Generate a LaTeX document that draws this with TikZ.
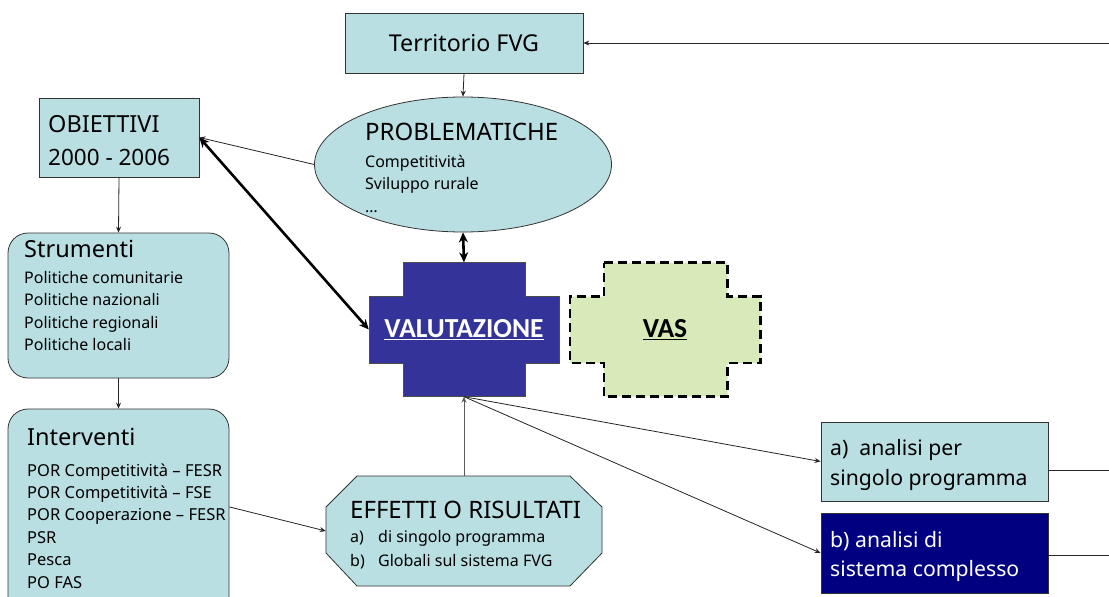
\documentclass[tikz,border=0pt]{standalone}
\usepackage{fontspec}
\setmainfont{Noto Sans}
\newfontfamily\carl{Carlito}
\usetikzlibrary{shapes.geometric,arrows.meta}
\definecolor{teal1}{HTML}{BADFE2}
\definecolor{vasg}{HTML}{D8EAB9}
\definecolor{valb}{HTML}{333399}
\definecolor{navy1}{HTML}{000080}
\begin{document}
\begin{tikzpicture}[x=1pt,y=-1pt,
  box/.style={draw=black!80, fill=teal1, line width=0.8pt, inner sep=0pt},
  ghost/.style={inner sep=0pt},
  txt/.style={anchor=base west, inner sep=0pt},
  big/.style={font=\fontsize{23.5}{27}\selectfont},
  small/.style={font=\fontsize{16}{19}\selectfont},
  mid/.style={font=\fontsize{21.2}{26}\selectfont},
  conn/.style={draw=black!85, line width=0.8pt, -{Stealth[length=6pt,width=5pt]}},
  dbl/.style={draw=black, line width=2.6pt, {Stealth[length=10pt,width=9pt]}-{Stealth[length=10pt,width=9pt]}},
  ]
\useasboundingbox (0,0) rectangle (1109,597);
\clip (0,0) rectangle (1109,597);
\fill[white] (0,0) rectangle (1109,597);

% Territorio
\node[box, font=\fontsize{23.2}{27}\selectfont, minimum width=238pt, minimum height=60pt] (terr) at (464,43) {Territorio FVG};
\coordinate (rin) at (1109,43);

% Problematiche
\node[box, ellipse, minimum width=297pt, minimum height=135pt] (prob) at (463,164.5) {};
\node[txt, font=\fontsize{24}{28}\selectfont] (probh) at (365,140) {PROBLEMATICHE};
\node[txt, small] (prob1) at (365,167) {Competitività};
\node[txt, small] (prob2) at (365,189.5) {Sviluppo rurale};
\node[txt, small] (prob3) at (365,212) {…};

% Obiettivi
\node[box, minimum width=160pt, minimum height=79pt] (obj) at (119,137.5) {};
\node[txt, big] (objh) at (48,132) {OBIETTIVI};
\node[txt, font=\fontsize{22.5}{26}\selectfont] (objy) at (48,165) {2000 - 2006};

% Strumenti
\node[box, rounded corners=20pt, minimum width=221pt, minimum height=145pt] (strum) at (118.5,305.5) {};
\node[txt, big] (strumh) at (24,257) {Strumenti};
\node[txt, small] (s1) at (24,283) {Politiche comunitarie};
\node[txt, small] (s2) at (24,305.5) {Politiche nazionali};
\node[txt, small] (s3) at (24,328) {Politiche regionali};
\node[txt, small] (s4) at (24,350.5) {Politiche locali};

% Interventi
\node[box, rounded corners=20pt, minimum width=221pt, minimum height=231pt] (interv) at (118.5,524.5) {};
\node[txt, big] (intervh) at (27,445) {Interventi};
\node[txt, font=\fontsize{16.5}{19}\selectfont] (i1) at (27,476) {POR Competitività – FESR};
\node[txt, font=\fontsize{16.5}{19}\selectfont] (i2) at (27,498.4) {POR Competitività – FSE};
\node[txt, font=\fontsize{16.5}{19}\selectfont] (i3) at (27,520.8) {POR Cooperazione – FESR};
\node[txt, font=\fontsize{16.5}{19}\selectfont] (i4) at (27,543.2) {PSR};
\node[txt, font=\fontsize{16.5}{19}\selectfont] (i5) at (27,565.6) {Pesca};
\node[txt, font=\fontsize{16.5}{19}\selectfont] (i6) at (27,588) {PO FAS};

% Effetti
\draw[draw=black!80, fill=teal1, line width=0.8pt] (357,476) -- (570,476) -- (602,507) -- (602,553) -- (570,586) -- (357,586) -- (326,553) -- (326,507) -- cycle;
\node[ghost, minimum width=276pt, minimum height=110pt] (eff) at (464,531) {};
\node[txt, font=\fontsize{24}{28}\selectfont] (effh) at (350,518) {EFFETTI O RISULTATI};
\node[txt, small] (ea) at (350,542) {a)};
\node[txt, small] (ea2) at (378,542) {di singolo programma};
\node[txt, small] (eb) at (350,566) {b)};
\node[txt, small] (eb2) at (378,566) {Globali sul sistema FVG};

% Valutazione
\draw[draw=black!70, fill=valb, line width=0.8pt] (403,262.5) -- (525,262.5) -- (525,296.5) -- (559,296.5) -- (559,363) -- (525,363) -- (525,396.5) -- (403,396.5) -- (403,363) -- (369,363) -- (369,296.5) -- (403,296.5) -- cycle;
\node[ghost, minimum width=190pt, minimum height=134pt, text=white, font=\carl\bfseries\fontsize{27.5}{31}\selectfont] (valut) at (464,329.5) {\underline{VALUTAZIONE}};

% VAS
\draw[draw=black, fill=vasg, line width=2.6pt, dash pattern=on 9pt off 5pt] (604,262.5) -- (727.5,262.5) -- (727.5,296.5) -- (760.5,296.5) -- (760.5,363) -- (727.5,363) -- (727.5,396.5) -- (604,396.5) -- (604,363) -- (570,363) -- (570,296.5) -- (604,296.5) -- cycle;
\node[ghost, minimum width=190pt, minimum height=134pt, font=\carl\bfseries\fontsize{27.5}{31}\selectfont] (vas) at (665,329.5) {\underline{VAS}};

% Analisi
\node[box, minimum width=227pt, minimum height=79pt] (ana) at (934.5,461.5) {};
\node[txt, mid] (ana1) at (830,455) {a)\ \ analisi per};
\node[txt, mid] (ana2) at (830,485) {singolo programma};
\node[box, fill=navy1, minimum width=227pt, minimum height=80pt] (anb) at (934.5,553) {};
\node[txt, mid, text=white] (anb1) at (830,547) {b) analisi di};
\node[txt, mid, text=white] (anb2) at (830,576) {sistema complesso};
\coordinate (ra) at (1109,470);
\coordinate (rb) at (1109,555);

% Connectors
\draw[conn] (rin) -- (terr.east);
\draw[conn] (terr.south) -- (prob.north);
\draw[conn] (prob.west) -- (obj.east);
\draw[dbl] (obj.east) -- (valut.west);
\draw[dbl] (prob.south) -- (valut.north);
\draw[conn] (obj.south) -- (strum.north);
\draw[conn] (strum.south) -- (interv.north);
\draw[conn] (interv.9) -- (eff.west);
\draw[conn, draw=black!65] (eff.north) -- (valut.south);
\draw[conn] (valut.south) -- (ana.west);
\draw[conn] (valut.south) -- (anb.west);
\draw[draw=black!85, line width=0.8pt] (ana.east |- ra) -- (ra);
\draw[draw=black!85, line width=0.8pt] (anb.east |- rb) -- (rb);
\end{tikzpicture}
\end{document}
